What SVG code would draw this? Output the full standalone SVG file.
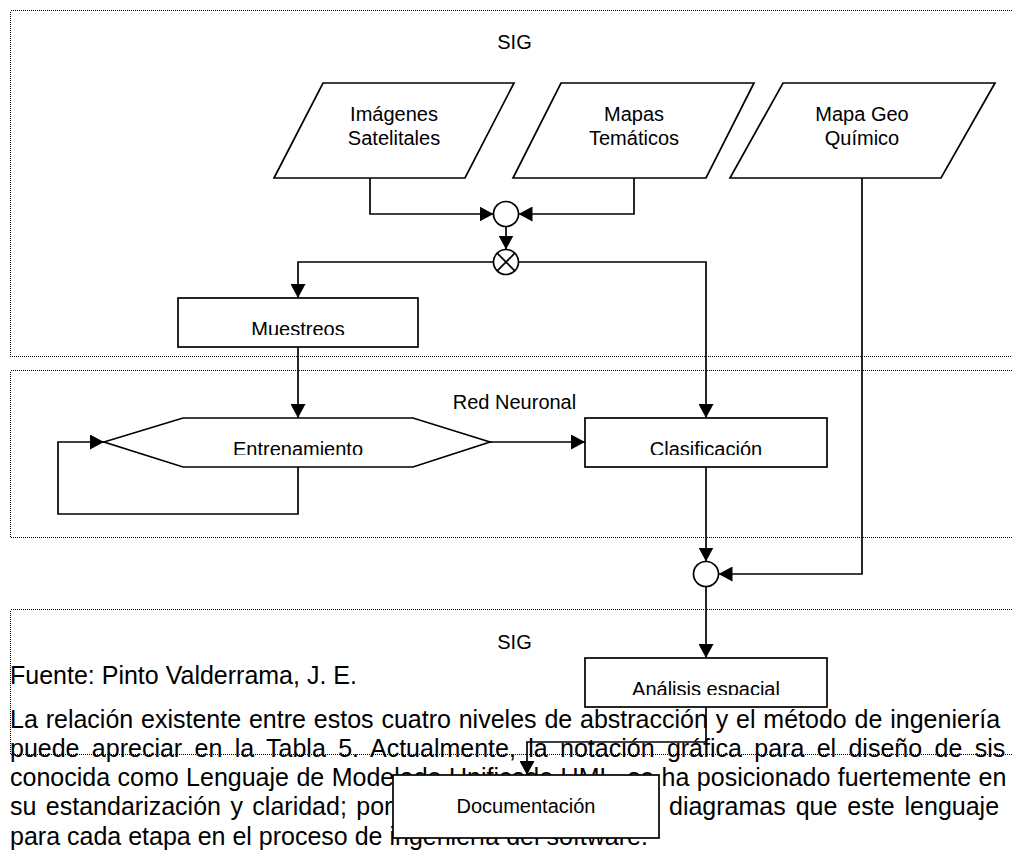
<svg xmlns="http://www.w3.org/2000/svg" width="1012" height="854" viewBox="0 0 1012 854">
<style>
.frame{fill:none;stroke:#000;stroke-width:1;stroke-dasharray:1 1;shape-rendering:crispEdges}
.shape{fill:#fff;stroke:#000;stroke-width:1.7}
.conn{fill:none;stroke:#000;stroke-width:1.7;marker-end:url(#ah)}
.line{fill:none;stroke:#000;stroke-width:1.7}
.lbl{font-family:"Liberation Sans",Arial,sans-serif;font-size:20px;fill:#000;text-anchor:middle}
.body{font-family:"Liberation Sans",Arial,sans-serif;font-size:25px;fill:#000}
</style>
<defs>
<marker id="ah" markerUnits="userSpaceOnUse" markerWidth="14" markerHeight="15" refX="14" refY="7.5" orient="auto"><path d="M0,0 L14,7.5 L0,15 z" fill="#000"/></marker>
<clipPath id="cMu"><rect x="180" y="300" width="236" height="35"/></clipPath>
<clipPath id="cEn"><rect x="110" y="420" width="375" height="35"/></clipPath>
<clipPath id="cCl"><rect x="587" y="420" width="238" height="35"/></clipPath>
<clipPath id="cAn"><rect x="587" y="660" width="238" height="35"/></clipPath>
</defs>

<g id="frames">
<rect class="frame" x="10.5" y="10.5" width="1030" height="346"/>
<rect class="frame" x="10.5" y="370.5" width="1030" height="167"/>
<rect class="frame" x="10.5" y="609.5" width="1030" height="145"/>
<text class="lbl" x="514.5" y="49">SIG</text>
<text class="lbl" x="514.5" y="409">Red Neuronal</text>
<text class="lbl" x="514.5" y="649">SIG</text>
</g>

<g id="bodytext" class="body">
<text x="10" y="684">Fuente: Pinto Valderrama, J. E.</text>
<text x="10" y="728" word-spacing="0.9">La relación existente entre estos cuatro niveles de abstracción y el método de ingeniería</text>
<text x="10" y="757" word-spacing="5.4">puede apreciar en la Tabla 5. Actualmente, la notación gráfica para el diseño de sis</text>
<text x="10" y="786" word-spacing="0.5">conocida como Lenguaje de Modelado Unificado UML, se ha posicionado fuertemente en</text>
<text x="10" y="815" word-spacing="2.5">su estandarización y claridad; por</text>
<text x="669" y="815" word-spacing="3">diagramas que este lenguaje</text>
<text x="10" y="845">para cada etapa en el proceso de ingeniería del software.</text>
</g>

<g id="connectors">
<path class="conn" d="M370,178 V214 H493.5"/>
<path class="conn" d="M634,178 V214 H518.5"/>
<path class="conn" d="M506,226.5 V249.5"/>
<path class="conn" d="M493.5,262 H298 V298"/>
<path class="conn" d="M518.5,262 H706 V418"/>
<path class="conn" d="M298,347 V418"/>
<path class="conn" d="M298,467 V514 H58 V442 H104"/>
<path class="conn" d="M490,442 H585"/>
<path class="conn" d="M706,467 V561.5"/>
<path class="conn" d="M862,178 V574 H718.5"/>
<path class="conn" d="M706,586.5 V658"/>
<path class="conn" d="M706,707 V742 H527 V775"/>
</g>

<g id="imagenes">
<polygon class="shape" points="323,83 514,83 465,178 274,178"/>
<text class="lbl" x="394" y="121">Imágenes</text>
<text class="lbl" x="394" y="145">Satelitales</text>
</g>
<g id="mapas">
<polygon class="shape" points="561,83 754,83 706,178 513,178"/>
<text class="lbl" x="634" y="121">Mapas</text>
<text class="lbl" x="634" y="145">Temáticos</text>
</g>
<g id="geoquimico">
<polygon class="shape" points="783,83 995,83 941,178 730,178"/>
<text class="lbl" x="862" y="121">Mapa Geo</text>
<text class="lbl" x="862" y="145">Químico</text>
</g>
<g id="union1">
<circle class="shape" cx="506" cy="214" r="12.5"/>
</g>
<g id="cruce">
<circle class="shape" cx="506" cy="262" r="12.5"/>
<path class="line" d="M497.2,253.2 L514.8,270.8 M514.8,253.2 L497.2,270.8"/>
</g>
<g id="muestreos">
<rect class="shape" x="178" y="298" width="240" height="49"/>
<text class="lbl" x="298" y="336" clip-path="url(#cMu)">Muestreos</text>
</g>
<g id="entrenamiento">
<polygon class="shape" points="104,442 183,418 413,418 490,442 413,467 183,467"/>
<text class="lbl" x="298" y="456" clip-path="url(#cEn)">Entrenamiento</text>
</g>
<g id="clasificacion">
<rect class="shape" x="585" y="418" width="242" height="49"/>
<text class="lbl" x="706" y="456" clip-path="url(#cCl)">Clasificación</text>
</g>
<g id="union2">
<circle class="shape" cx="706" cy="574" r="12.5"/>
</g>
<g id="analisis">
<rect class="shape" x="585" y="658" width="242" height="49"/>
<text class="lbl" x="706" y="696" clip-path="url(#cAn)">Análisis espacial</text>
</g>
<g id="documentacion">
<rect class="shape" x="393" y="775" width="266" height="63"/>
<text class="lbl" x="526" y="813">Documentación</text>
</g>
</svg>
